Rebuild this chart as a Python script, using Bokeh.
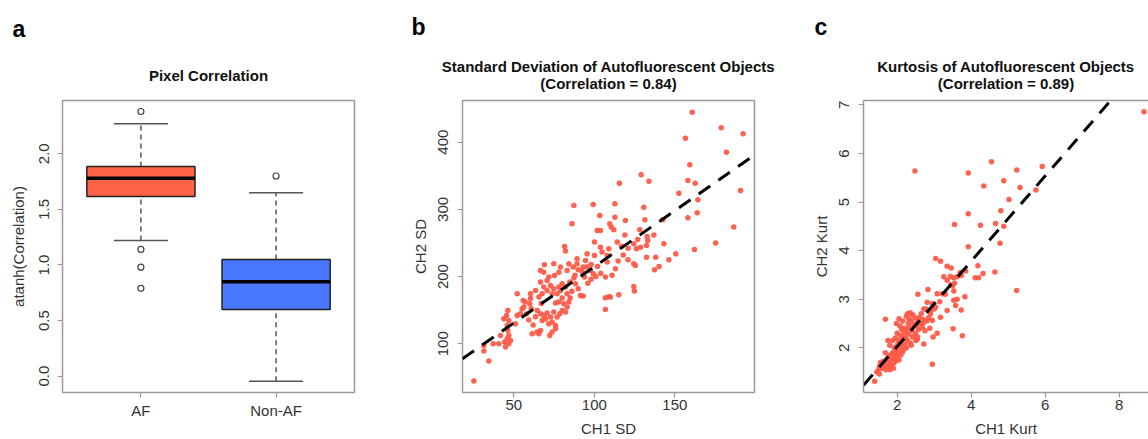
from bokeh.plotting import figure
from bokeh.models import FixedTicker, LinearAxis, Range1d, Title
from bokeh.layouts import row
from bokeh.embed import file_html
from bokeh.resources import INLINE

# ---------------- data ----------------
box_groups = ["AF", "Non-AF"]
box_pos = [1, 2]
box_lower = [1.22, -0.045]
box_q1 = [1.615, 0.60]
box_median = [1.78, 0.85]
box_q3 = [1.885, 1.05]
box_upper = [2.27, 1.65]
box_colors = ["#FF6347", "#4876FF"]
out_af = [2.38, 1.14, 0.98, 0.79]
out_nonaf = [1.80]

sd_ch1 = [160.8, 178.8, 192.4, 156.6, 182.1, 159.3, 158.1, 162.6, 115.6, 129.1, 133.9, 152.5, 190.8, 164.3,
          163.9, 158.1, 186.6, 162.2, 175.3, 150.6, 146.3, 143.2, 142.5, 140.2, 138.1, 132.5, 137.4, 130.7,
          131.4, 128.2, 132.8, 133.2, 132.4, 128.7, 124.5, 126.1, 124.5, 125.5, 124.5, 124.9, 120.9, 119.3,
          112.8, 112.8, 114.2, 114.8, 113.1, 115.2, 110.0, 106.9, 106.9, 106.9, 108.0, 108.0, 109.0, 110.5,
          112.1, 109.6, 103.8, 101.8, 103.4, 99.3, 100.1, 100.1, 103.8, 104.8, 95.5, 94.5, 93.1, 95.5, 97.6,
          99.3, 93.9, 92.4, 88.3, 87.3, 84.8, 91.4, 93.1, 86.2, 87.3, 81.5, 82.1, 84.2, 86.9, 89.3, 83.1, 79.0,
          78.0, 75.3, 74.8, 71.7, 68.6, 66.6, 69.0, 70.7, 72.8, 74.8, 78.0, 80.0, 82.1, 79.0, 83.1, 76.9, 73.8,
          70.7, 68.6, 66.6, 67.6, 65.6, 63.5, 60.4, 60.4, 59.9, 60.8, 64.5, 66.6, 68.6, 70.7, 72.8, 74.8, 76.9,
          78.6, 75.9, 78.0, 81.1, 83.1, 84.2, 82.1, 80.1, 73.8, 71.7, 69.7, 67.6, 66.6, 73.8, 75.9, 75.9, 72.3,
          64.5, 65.6, 61.4, 63.5, 59.3, 57.9, 55.2, 54.1, 52.1, 51.0, 52.1, 46.3, 45.5, 43.8, 46.9, 45.9, 46.3,
          46.9, 45.9, 44.3, 46.9, 44.9, 48.0, 41.7, 40.7, 37.2, 31.4, 31.4, 34.5, 25.2, 56.2, 55.8, 89.3, 96.0,
          98.0, 90.0, 86.0, 88.0, 101.0, 104.0, 98.0, 118.0, 121.0, 117.0, 127.0, 119.0, 137.0, 111.0, 109.0,
          102.0, 67.0, 62.0, 57.0, 80.0, 85.0, 90.0]
sd_ch2 = [444.6, 421.3, 412.4, 406.0, 385.1, 366.3, 343.0, 339.0, 339.0, 351.4, 342.0, 324.1, 328.1, 314.2,
          294.9, 287.5, 273.6, 240.4, 249.8, 233.9, 225.0, 248.8, 284.5, 215.0, 228.9, 228.9, 210.0, 303.3,
          284.5, 269.6, 259.7, 253.7, 246.3, 243.8, 248.8, 241.3, 219.0, 216.6, 185.3, 178.4, 225.0, 283.5,
          308.3, 288.4, 251.3, 223.0, 211.6, 172.9, 169.5, 168.5, 151.1, 199.2, 221.5, 231.4, 241.3, 273.6,
          269.6, 278.5, 268.6, 268.6, 290.9, 307.3, 251.3, 231.4, 243.8, 236.4, 233.9, 224.0, 214.1, 214.1,
          209.1, 204.2, 199.2, 208.1, 189.3, 197.7, 191.8, 171.9, 171.0, 278.5, 305.8, 244.8, 237.9, 219.0,
          214.1, 219.0, 209.1, 214.1, 206.6, 201.7, 219.0, 199.2, 206.6, 209.1, 217.6, 194.3, 186.8, 181.8,
          184.3, 189.3, 184.3, 179.4, 174.4, 174.4, 174.4, 179.4, 184.3, 191.8, 174.4, 169.5, 179.4, 174.4,
          167.2, 159.6, 152.1, 149.6, 144.7, 142.2, 145.7, 139.7, 147.1, 139.7, 144.7, 160.5, 162.0, 159.6,
          154.6, 162.0, 147.1, 149.6, 132.3, 129.8, 137.2, 134.8, 119.9, 117.4, 122.4, 127.3, 112.4, 117.4,
          114.9, 114.9, 140.2, 135.3, 144.7, 152.1, 144.7, 142.2, 129.8, 174.4, 149.6, 142.2, 137.2, 134.8,
          127.3, 119.9, 112.4, 107.5, 102.5, 100.0, 95.1, 105.0, 112.4, 100.0, 100.0, 97.6, 89.1, 74.3, 44.5,
          154.6, 164.5, 226.5, 190.0, 196.0, 182.0, 178.0, 202.0, 200.0, 205.0, 218.0, 232.0, 242.0, 245.0,
          255.0, 262.0, 262.0, 202.0, 170.0, 215.0, 160.0, 128.0, 162.0, 168.0, 168.0, 210.0]
sd_fit = [47.4, 1.672]   # intercept, slope

kurt_ch1 = [8.67, 2.48, 4.55, 3.92, 5.23, 5.92, 4.88, 4.34, 5.32, 5.02, 4.80, 3.92, 3.55, 4.25, 4.66, 4.88,
            4.78, 3.92, 3.04, 3.17, 3.35, 3.46, 4.18, 4.32, 4.11, 4.20, 4.64, 3.85, 3.73, 3.26, 3.35, 3.44,
            3.53, 3.62, 3.55, 3.49, 3.53, 5.23, 3.83, 3.62, 3.53, 3.58, 3.73, 3.35, 3.17, 3.08, 3.22, 2.83,
            2.56, 2.95, 3.04, 2.81, 2.72, 2.95, 2.70, 3.51, 3.76, 3.08, 2.97, 2.54, 2.72, 2.95, 1.68, 1.39,
            1.52, 5.75, 3.30, 3.15, 3.00, 2.90, 3.45, 3.70,
            1.62, 1.65, 1.70, 1.72, 1.75, 1.78, 1.80, 1.82, 1.85, 1.85, 1.88, 1.90, 1.90, 1.92, 1.95, 1.95,
            1.97, 2.00, 2.00, 2.02, 2.03, 2.05, 2.05, 2.08, 2.10, 2.10, 2.12, 2.15, 2.15, 2.18, 2.20, 2.20,
            2.22, 2.25, 2.25, 2.28, 2.30, 2.30, 2.33, 2.35, 2.38, 2.40, 2.42, 2.45, 2.48, 2.50, 2.52, 2.55,
            2.58, 2.60, 2.62, 2.65, 2.70, 1.75, 1.80, 1.68, 1.58, 1.55, 1.60, 1.70, 1.80, 1.90, 1.98, 2.08,
            2.05, 2.15, 2.25, 2.28, 2.35, 2.42, 2.00, 1.95, 1.88, 2.12, 2.32, 2.18, 2.38, 2.50, 2.55, 2.68,
            2.75, 2.80, 2.85, 2.90, 2.78, 2.88, 1.50, 1.45, 1.52]
kurt_ch2 = [6.86, 5.64, 5.83, 5.60, 5.66, 5.73, 5.44, 5.33, 5.30, 5.05, 4.82, 4.76, 4.54, 4.52, 4.56, 4.50,
            4.15, 4.08, 3.84, 3.78, 3.68, 3.64, 3.69, 3.53, 3.44, 3.44, 3.56, 3.58, 3.49, 3.46, 3.39, 3.47,
            3.44, 3.46, 3.33, 3.27, 3.17, 3.18, 3.05, 3.00, 2.98, 2.87, 2.78, 2.77, 2.63, 3.11, 3.11, 3.20,
            3.10, 2.91, 2.84, 2.94, 2.80, 2.56, 2.51, 2.39, 2.25, 2.30, 2.22, 2.17, 2.08, 1.66, 2.59, 1.31,
            1.46, 5.25, 3.10, 2.95, 2.80, 2.70, 3.30, 3.55,
            1.72, 1.68, 1.75, 1.62, 1.80, 1.70, 1.65, 1.85, 1.75, 1.60, 1.90, 1.78, 1.68, 2.00, 1.85, 1.72,
            1.95, 2.05, 1.80, 1.90, 2.15, 1.98, 1.75, 2.10, 1.85, 2.25, 2.02, 2.18, 1.92, 2.30, 2.08, 2.40,
            2.20, 2.00, 2.35, 2.15, 2.50, 2.28, 2.42, 2.10, 2.55, 2.35, 2.22, 2.48, 2.62, 2.30, 2.45, 2.55,
            2.38, 2.62, 2.50, 2.70, 2.58, 2.15, 2.05, 1.90, 1.62, 1.70, 1.58, 1.55, 1.55, 1.58, 2.50, 2.45,
            2.60, 2.55, 2.65, 2.70, 2.72, 2.68, 2.30, 2.20, 2.15, 2.38, 2.60, 1.98, 2.05, 2.15, 2.22, 2.42,
            2.35, 2.55, 2.62, 2.75, 2.80, 2.40, 1.55, 1.50, 1.62]
kurt_fit = [0.275, 0.877]

# ---------------- style ----------------
FONT = "Liberation Sans"
GRAY = "#9a9a9a"
TXT = "#333333"
PT = "#FF5A47"
H = 439
FRAME_TOP, FRAME_H = 100, 292
DASH = "14 10"


def make_fig(width, xr, yr, left, right, y_std, y_lab_std):
    p = figure(width=width, height=H, x_range=Range1d(*xr), y_range=Range1d(*yr),
               output_backend="svg", toolbar_location=None,
               min_border_left=left, min_border_right=right,
               min_border_top=FRAME_TOP, min_border_bottom=H - FRAME_TOP - FRAME_H)
    p.grid.visible = False
    p.outline_line_color = GRAY
    p.outline_line_width = 1.5
    for ax in p.axis:
        ax.axis_line_color = None
        ax.major_tick_line_color = GRAY
        ax.major_tick_line_width = 1.2
        ax.major_tick_out = 5
        ax.major_tick_in = 0
        ax.minor_tick_line_color = None
        ax.major_label_text_font = FONT
        ax.major_label_text_font_size = "15px"
        ax.major_label_text_color = TXT
        ax.axis_label_text_font = FONT
        ax.axis_label_text_font_size = "15px"
        ax.axis_label_text_font_style = "normal"
        ax.axis_label_text_color = TXT
    p.xaxis.major_label_standoff = 2
    p.xaxis.axis_label_standoff = 7
    p.yaxis.major_label_standoff = y_std
    p.yaxis.axis_label_standoff = y_lab_std
    p.yaxis.major_label_orientation = "vertical"
    return p


def add_titles(p, lines, letter, title_standoff, letter_standoff, letter_offset, title_offset=0):
    p.add_layout(Title(text=lines, align="center", text_align="center", text_font=FONT,
                       text_font_size="15px", text_font_style="bold", text_color="#111111",
                       standoff=title_standoff, offset=title_offset), "above")
    p.add_layout(Title(text=letter, align="left", text_font=FONT, text_font_size="23px",
                       text_font_style="bold", text_color="black",
                       standoff=letter_standoff, offset=letter_offset), "above")


# ---------------- panel a ----------------
xa, ya = (0.42, 2.58), (-0.147, 2.479)
pa = make_fig(400, xa, ya, 62, 46, 8, 10)
pa.xaxis.major_label_standoff = 4
pa.xaxis.ticker = FixedTicker(ticks=box_pos)
pa.xaxis.major_label_overrides = {p: g for p, g in zip(box_pos, box_groups)}
pa.yaxis.ticker = FixedTicker(ticks=[0.0, 0.5, 1.0, 1.5, 2.0])
pa.yaxis.major_label_overrides = {0.0: "0.0", 0.5: "0.5", 1.0: "1.0", 1.5: "1.5", 2.0: "2.0"}
pa.yaxis.axis_label = "atanh(Correlation)"

lx = [p - 0.2 for p in box_pos]
rx = [p + 0.2 for p in box_pos]
pa.segment(x0=box_pos, x1=box_pos, y0=box_q3, y1=box_upper, line_color="#555555", line_width=1.5, line_dash="5 4")
pa.segment(x0=box_pos, x1=box_pos, y0=box_lower, y1=box_q1, line_color="#555555", line_width=1.5, line_dash="5 4")
pa.segment(x0=lx, x1=rx, y0=box_upper, y1=box_upper, line_color="#555555", line_width=1.5)
pa.segment(x0=lx, x1=rx, y0=box_lower, y1=box_lower, line_color="#555555", line_width=1.5)
pa.vbar(x=box_pos, width=0.8, bottom=box_q1, top=box_q3, fill_color=box_colors,
        line_color="#222222", line_width=1.5)
pa.segment(x0=[p - 0.4 for p in box_pos], x1=[p + 0.4 for p in box_pos], y0=box_median, y1=box_median,
           line_color="black", line_width=3.5)
pa.scatter(x=[box_pos[0]] * len(out_af) + [box_pos[1]] * len(out_nonaf), y=out_af + out_nonaf,
           marker="circle", size=6, fill_color=None, line_color="#444444", line_width=1.2)
add_titles(pa, "Pixel Correlation", "a", 34, 12, -50)

# ---------------- panel b ----------------
xb, yb = (18.14, 199.47), (27.5, 462.0)
pb = make_fig(400, xb, yb, 62, 46, 9, 7)
pb.xaxis.ticker = FixedTicker(ticks=[50, 100, 150])
pb.yaxis.ticker = FixedTicker(ticks=[100, 200, 300, 400])
pb.xaxis.axis_label = "CH1 SD"
pb.yaxis.axis_label = "CH2 SD"
pb.scatter(x=sd_ch1, y=sd_ch2, marker="circle", size=5.5, fill_color=PT, line_color=None, fill_alpha=0.95)
pb.line(x=list(xb), y=[sd_fit[0] + sd_fit[1] * v for v in xb], line_color="black", line_width=3,
        line_dash=DASH)
add_titles(pb, "Standard Deviation of Autofluorescent Objects\n(Correlation = 0.84)", "b", 17, 15, -51)

# ---------------- panel c ----------------
xc, yc = (1.089, 8.792), (1.08, 7.09)
pc = make_fig(348, xc, yc, 63, 0, 9, 7)
pc.outline_line_color = None
for ax in pc.axis:
    ax.axis_line_color = GRAY
    ax.axis_line_width = 1.5
pc.xaxis.ticker = FixedTicker(ticks=[2, 4, 6, 8])
pc.yaxis.ticker = FixedTicker(ticks=[2, 3, 4, 5, 6, 7])
pc.xaxis.axis_label = "CH1 Kurt"
pc.yaxis.axis_label = "CH2 Kurt"
pc.scatter(x=kurt_ch1, y=kurt_ch2, marker="circle", size=5.5, fill_color=PT, line_color=None, fill_alpha=0.95)
pc.line(x=list(xc), y=[kurt_fit[0] + kurt_fit[1] * v for v in xc], line_color="black", line_width=3,
        line_dash=DASH)
top = LinearAxis(ticker=FixedTicker(ticks=[]), axis_line_color=GRAY, axis_line_width=1.5,
                 major_label_text_font_size="0px", major_tick_line_color=None, minor_tick_line_color=None,
                 major_label_standoff=0)
pc.add_layout(top, "above")
add_titles(pc, "Kurtosis of Autofluorescent Objects\n(Correlation = 0.89)", "c", 17, 15, -49, title_offset=4)

layout = row(pa, pb, pc)
open("out.html", "w").write(file_html(layout, INLINE))
